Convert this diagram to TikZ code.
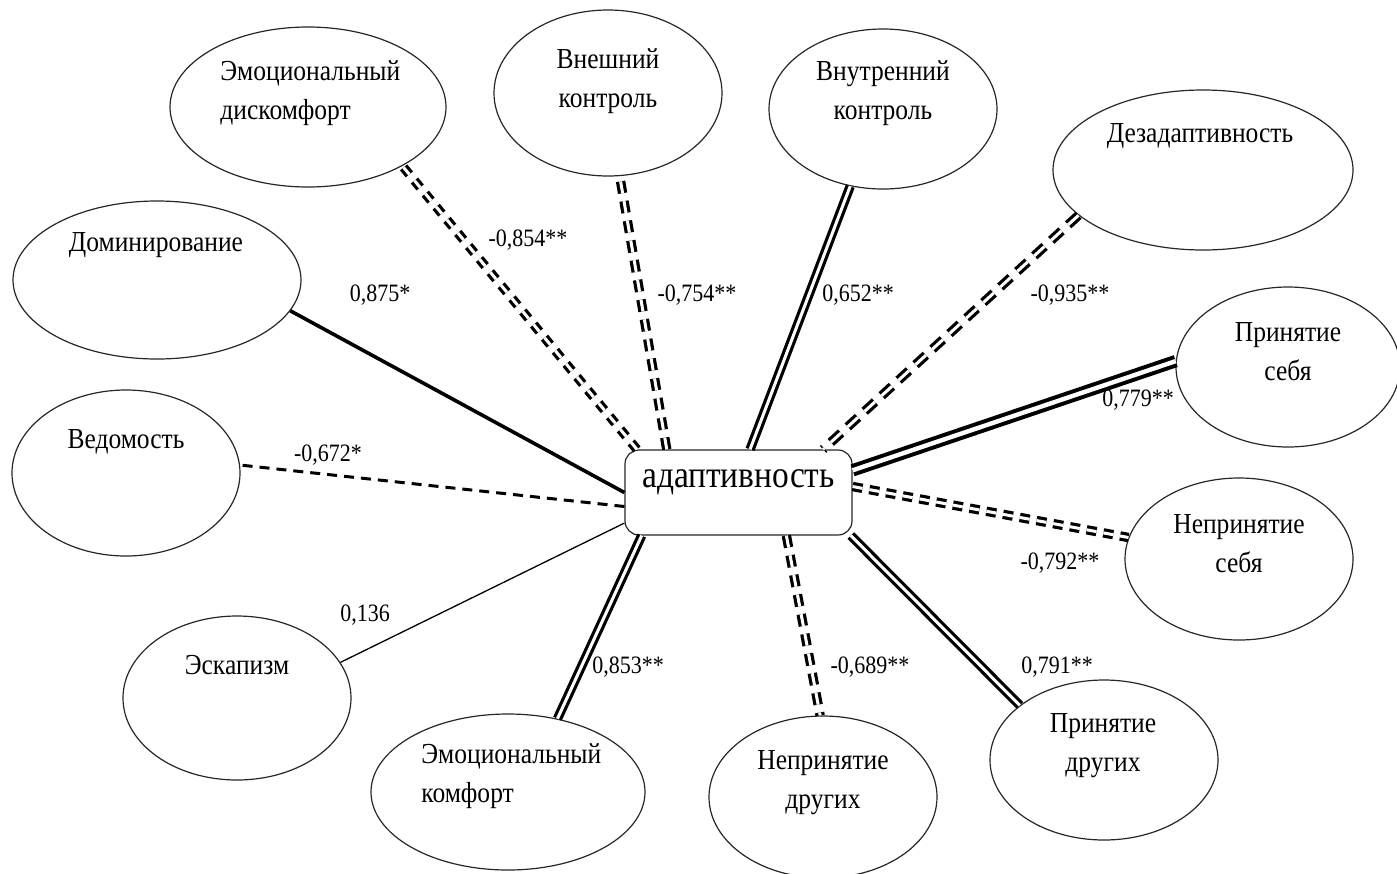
\documentclass[tikz,border=0pt]{standalone}
\usepackage{fontspec}
\setmainfont{Liberation Serif}[FakeStretch=0.88]
\usetikzlibrary{shapes.geometric}

\begin{document}
\begin{tikzpicture}[x=0.5pt,y=-0.5pt,
    oval/.style={ellipse,draw=black!85,line width=0.6pt,inner sep=0pt},
    hub/.style={rectangle,draw=black!85,line width=0.6pt,rounded corners=7pt,
        minimum width=113.5pt,minimum height=42.5pt,inner sep=0pt},
    ttl/.style={font=\fontsize{14.5}{19.5}\selectfont,align=center,inner sep=0pt},
    coef/.style={font=\fontsize{12.5}{14}\selectfont,inner sep=0pt},
    solidln/.style={line width=1.8pt},
    weakln/.style={line width=0.65pt},
    dashln/.style={line width=1.5pt,dash pattern=on 5pt off 3.5pt},
    dblln/.style={double,line width=1.6pt,double distance=1.5pt},
    dbldashln/.style={dblln,dash pattern=on 6pt off 4pt}]
    \useasboundingbox (0,0) rectangle (1397,873);

    % scales
    \node[oval,minimum width=138pt,minimum height=80pt] (edisk) at (308,107) {};
    \node[oval,minimum width=114pt,minimum height=83pt] (vnesh) at (608,93) {};
    \node[oval,minimum width=114pt,minimum height=80pt] (vnutr) at (883,109) {};
    \node[oval,minimum width=150pt,minimum height=80pt] (dezad) at (1203,170) {};
    \node[oval,minimum width=144pt,minimum height=79pt] (dom) at (157,280) {};
    \node[oval,minimum width=114pt,minimum height=83pt] (ved) at (126,473) {};
    \node[oval,minimum width=114pt,minimum height=82pt] (esk) at (237,698) {};
    \node[oval,minimum width=137pt,minimum height=78pt] (ekomf) at (508,792) {};
    \node[oval,minimum width=114pt,minimum height=81pt] (nedr) at (823,797) {};
    \node[oval,minimum width=114pt,minimum height=80pt] (prdr) at (1104,760) {};
    \node[oval,minimum width=114pt,minimum height=81pt] (nesebya) at (1239,559) {};
    \node[oval,minimum width=112pt,minimum height=80pt] (prsebya) at (1288,367) {};
    \node[hub] (ad) at (738.5,492.5) {};

    \node[ttl,anchor=west,align=left] (edisk-t) at (220,93) {Эмоциональный\\дискомфорт};
    \node[ttl] (vnesh-t) at (608,81) {Внешний\\контроль};
    \node[ttl] (vnutr-t) at (883,93) {Внутренний\\контроль};
    \node[ttl] (dezad-t) at (1200,136) {Дезадаптивность};
    \node[ttl] (dom-t) at (156,245) {Доминирование};
    \node[ttl] (ved-t) at (126,442) {Ведомость};
    \node[ttl] (esk-t) at (237,665) {Эскапизм};
    \node[ttl,anchor=west,align=left] (ekomf-t) at (421,776) {Эмоциональный\\комфорт};
    \node[ttl] (nedr-t) at (823,783) {Непринятие\\других};
    \node[ttl] (prdr-t) at (1103,746) {Принятие\\других};
    \node[ttl] (nesebya-t) at (1239,544) {Непринятие\\себя};
    \node[ttl] (prsebya-t) at (1288,352) {Принятие\\себя};
    \node[font=\fontsize{19}{22}\selectfont,inner sep=0pt] (ad-t) at (738.5,482) {адаптивность};

    % links
    \draw[solidln] (ad.180) -- (dom.347);
    \draw[dashln] (ad.187) -- (ved.4);
    \draw[weakln] (ad.195) -- (esk.19);
    \draw[dblln] (ad.204) -- (ekomf.56);
    \draw[dbldashln] (ad.318) -- (nedr.92);
    \draw[dblln] (ad.339) -- (prdr.147);
    \draw[dbldashln,dash pattern=on 5pt off 3.5pt] (ad.3) -- (nesebya.169);
    \draw[dblln,line width=2pt,double distance=2.2pt] (ad.11) -- (prsebya.177);
    \draw[dbldashln,dash pattern=on 7pt off 4.5pt] (dezad.200) -- (ad.27);
    \draw[dblln] (ad.75) -- (vnutr.247);
    \draw[dbldashln] (ad.149) -- (vnesh.278);
    \draw[dbldashln,dash pattern=on 4.5pt off 4pt] (ad.157) -- (edisk.328);

    \node[coef] (c-dom) at (380,295) {0,875*};
    \node[coef] (c-ved) at (328,455) {-0,672*};
    \node[coef] (c-esk) at (365,615) {0,136};
    \node[coef] (c-ekomf) at (628,667) {0,853**};
    \node[coef] (c-nedr) at (870,667) {-0,689**};
    \node[coef] (c-prdr) at (1057,667) {0,791**};
    \node[coef] (c-nesebya) at (1060,563) {-0,792**};
    \node[coef] (c-prsebya) at (1138,400) {0,779**};
    \node[coef] (c-dezad) at (1070,295) {-0,935**};
    \node[coef] (c-vnutr) at (858,295) {0,652**};
    \node[coef] (c-vnesh) at (697,295) {-0,754**};
    \node[coef] (c-edisk) at (528,240) {-0,854**};
\end{tikzpicture}
\end{document}
